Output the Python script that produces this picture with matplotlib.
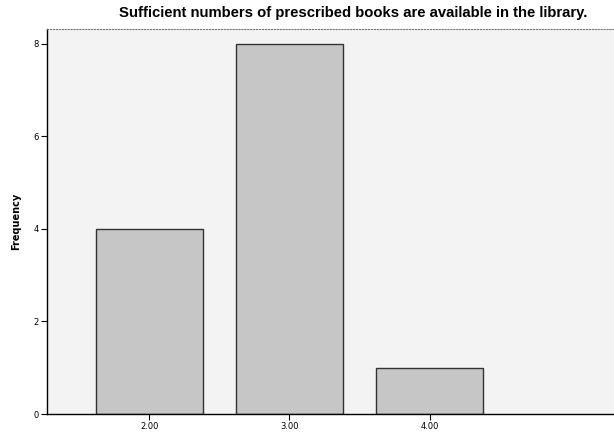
import numpy as np
import matplotlib
matplotlib.use('Agg')
import matplotlib.pyplot as plt

categories = ['2.00', '3.00', '4.00']
frequency = [4, 8, 1]
yticks = [0, 2, 4, 6, 8]

fig = plt.figure(figsize=(6.14, 4.44), dpi=100)
ax = fig.add_axes([47/614, 1 - 414/444, 1 - 47/614 + 0.01, (414 - 29)/444])
ax.set_facecolor('#f3f3f3')

x = np.arange(len(categories))
ax.bar(x, frequency, width=0.76, color='#c6c6c6', edgecolor='#333333', linewidth=1.0)

ax.set_xlim(-0.73, 3.36)
ax.set_ylim(0, 8.32)
ax.set_xticks(x)
ax.set_xticklabels(categories, fontsize=6)
ax.set_yticks(yticks)
ax.set_yticklabels([str(v) for v in yticks], fontsize=6)
ax.tick_params(axis='both', direction='out', length=4, width=0.8, pad=2)
ax.set_ylabel('Frequency', fontsize=7, fontweight='bold', labelpad=9)

ax.spines['right'].set_visible(False)
ax.spines['top'].set_linestyle(':')
ax.spines['top'].set_color('#777777')
ax.spines['left'].set_linewidth(1.0)
ax.spines['bottom'].set_linewidth(1.0)

fig.text(353/614, 1 - 13/444, 'Sufficient numbers of prescribed books are available in the library.',
         ha='center', va='center', fontsize=10.7, fontweight='bold', family='Liberation Sans')

fig.savefig('out.png', dpi=100)
